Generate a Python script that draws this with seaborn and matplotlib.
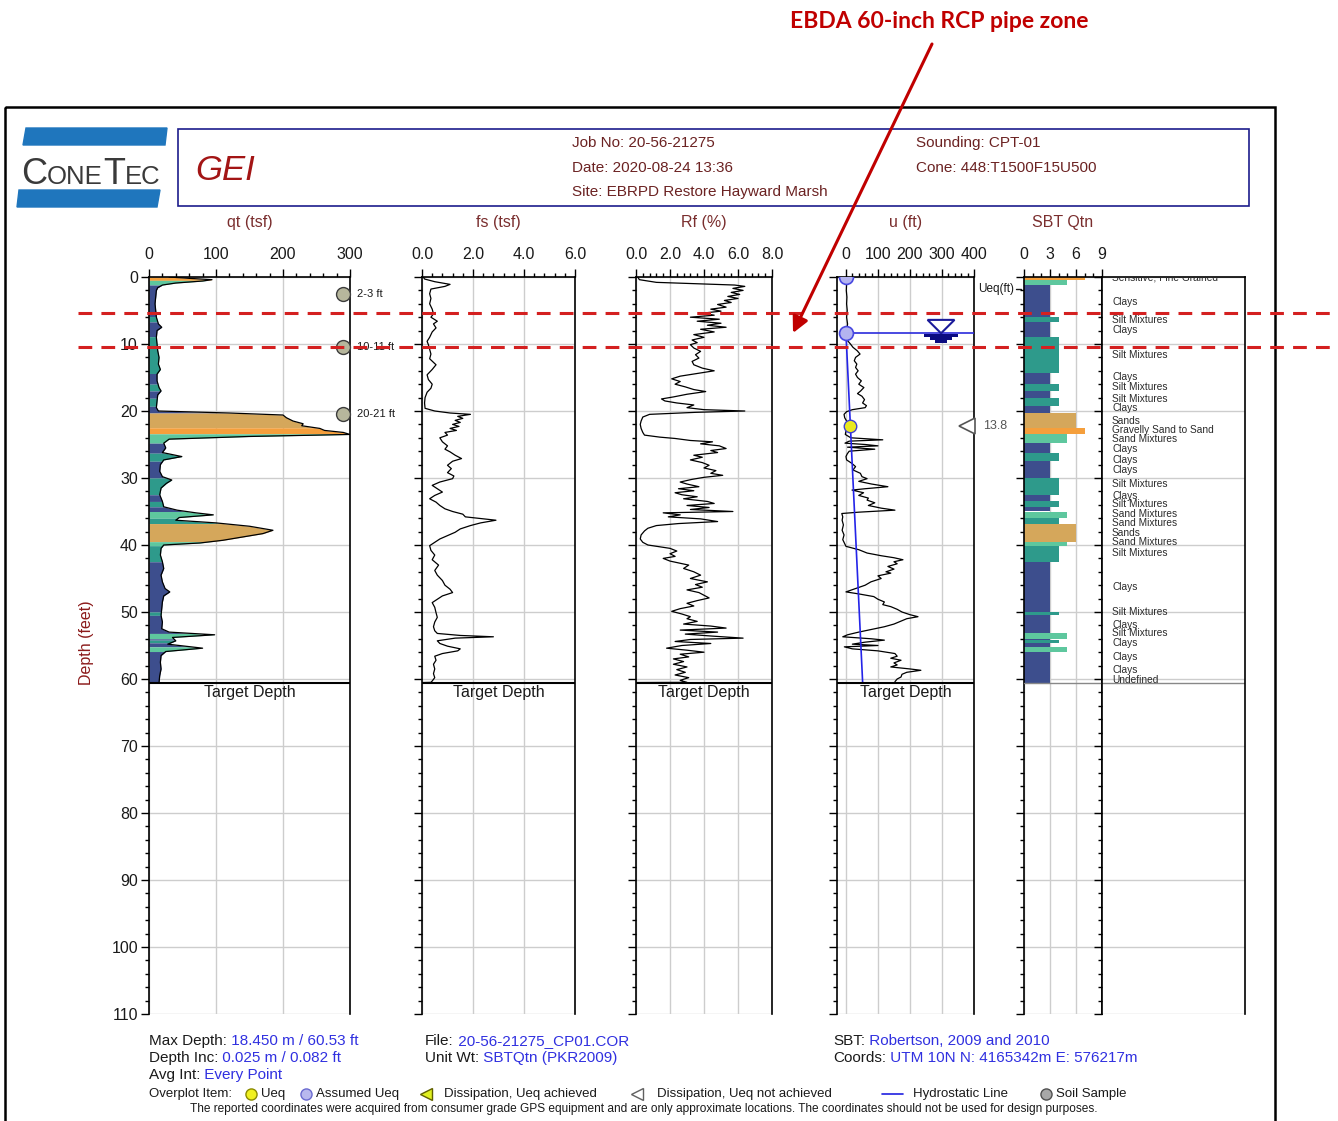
import numpy as np
import matplotlib
matplotlib.use("Agg")
import matplotlib.pyplot as plt
import seaborn as sns
from matplotlib.patches import Rectangle, Polygon
from matplotlib.ticker import MultipleLocator, FixedLocator, FormatStrFormatter
from matplotlib.transforms import blended_transform_factory

# ---------------------------------------------------------------- data
# CPT-01 profiles as (depth ft, value)
QT_PROFILE = [
    (0.0, 30), (0.2, 60), (0.4, 94), (0.6, 80), (0.9, 40), (1.2, 20), (1.6, 13),
    (2.0, 11), (3.0, 10), (4.0, 9), (5.0, 10), (6.0, 11), (7.0, 14), (7.5, 19),
    (8.0, 12), (9.0, 11), (10.0, 12), (11.0, 13), (12.0, 15), (13.0, 14),
    (13.8, 17), (14.5, 12), (15.5, 12), (16.5, 15), (17.0, 18), (17.6, 13),
    (18.5, 12), (19.5, 11), (20.0, 14), (20.3, 120), (20.6, 200), (21.0, 205),
    (21.5, 215), (21.9, 230), (22.2, 228), (22.6, 255), (22.9, 262), (23.2, 290),
    (23.5, 300), (23.8, 150), (24.2, 30), (24.8, 22), (25.5, 25), (26.2, 20),
    (26.8, 49), (27.3, 22), (28.0, 17), (29.0, 16), (29.8, 20), (30.3, 34),
    (30.8, 26), (31.5, 18), (32.5, 16), (33.5, 20), (34.3, 22), (34.8, 42),
    (35.2, 70), (35.5, 96), (35.9, 45), (36.3, 40), (36.7, 100), (37.2, 150),
    (37.8, 185), (38.3, 170), (38.8, 140), (39.3, 110), (39.7, 76), (40.0, 22),
    (40.5, 18), (41.5, 17), (42.5, 20), (43.5, 22), (44.5, 18), (45.5, 20),
    (46.5, 24), (47.0, 31), (47.6, 22), (48.5, 20), (49.5, 19), (50.5, 18),
    (51.5, 20), (52.5, 19), (53.0, 30), (53.4, 98), (53.8, 35), (54.3, 40),
    (54.8, 28), (55.4, 80), (55.9, 25), (56.5, 18), (57.5, 17), (58.5, 18),
    (59.5, 16), (60.5, 15),
]

FS_PROFILE = [
    (0.0, 0.05), (0.3, 0.1), (0.7, 0.5), (1.1, 1.1), (1.4, 0.9), (1.8, 0.35),
    (2.5, 0.3), (3.2, 0.35), (4.0, 0.3), (4.8, 0.4), (5.5, 0.45), (6.0, 0.35),
    (6.6, 0.6), (7.0, 0.45), (7.6, 0.55), (8.2, 0.4), (9.0, 0.3), (9.6, 0.2),
    (10.1, 0.25), (10.8, 0.3), (11.5, 0.35), (12.2, 0.3), (13.1, 0.55),
    (13.8, 0.4), (14.6, 0.2), (15.3, 0.25), (16.0, 0.4), (16.6, 0.35),
    (17.2, 0.2), (18.0, 0.12), (18.8, 0.1), (19.6, 0.12), (20.0, 0.5),
    (20.3, 1.1), (20.5, 1.9), (20.8, 1.4), (21.1, 1.6), (21.4, 1.3), (21.7, 1.5),
    (22.0, 1.2), (22.3, 1.45), (22.6, 1.1), (22.9, 1.35), (23.2, 0.9),
    (23.6, 1.0), (24.0, 0.7), (24.6, 0.8), (25.2, 1.0), (25.7, 0.9), (26.1, 1.1),
    (26.6, 1.3), (27.1, 1.55), (27.5, 1.2), (28.1, 1.0), (28.6, 1.15),
    (29.2, 1.0), (29.7, 1.25), (30.1, 1.2), (30.6, 0.7), (31.1, 0.4), (31.6, 0.6),
    (32.1, 0.8), (32.6, 0.5), (33.1, 0.3), (33.6, 0.55), (34.1, 0.7), (34.6, 0.9),
    (35.0, 1.2), (35.4, 1.6), (35.8, 1.7), (36.3, 2.9), (36.7, 2.3), (37.1, 1.9),
    (37.6, 1.5), (38.1, 1.3), (38.6, 1.0), (39.1, 0.7), (39.6, 0.5), (40.1, 0.3),
    (40.8, 0.35), (41.5, 0.5), (42.2, 0.4), (43.0, 0.65), (43.8, 0.5),
    (44.5, 0.6), (45.3, 0.8), (46.0, 0.9), (46.6, 1.1), (47.1, 1.2), (47.6, 0.8),
    (48.1, 0.6), (48.6, 0.4), (49.3, 0.5), (50.1, 0.55), (50.8, 0.6), (51.5, 0.5),
    (52.2, 0.45), (52.8, 0.5), (53.2, 0.6), (53.5, 1.5), (53.7, 2.8), (53.9, 1.3),
    (54.3, 0.6), (54.7, 0.7), (55.1, 1.0), (55.5, 1.5), (55.8, 1.4), (56.2, 0.8),
    (56.6, 0.5), (57.2, 0.55), (57.8, 0.45), (58.5, 0.5), (59.2, 0.45),
    (59.8, 0.5), (60.3, 0.4), (60.5, 0.35), (60.53, 0.0),
]

RF_PROFILE = [
    (0.0, 0.1), (0.4, 0.2), (0.8, 1.2), (1.0, 3.5), (1.2, 5.8), (1.4, 6.4),
    (1.7, 5.7), (2.0, 6.3), (2.3, 5.6), (2.6, 6.1), (2.9, 5.4), (3.2, 6.0),
    (3.5, 5.2), (3.8, 5.6), (4.1, 4.8), (4.5, 5.3), (4.8, 4.4), (5.1, 5.0),
    (5.4, 3.9), (5.7, 4.6), (6.0, 3.2), (6.3, 4.9), (6.6, 3.6), (6.9, 5.0),
    (7.2, 4.2), (7.5, 5.3), (7.8, 3.8), (8.2, 4.6), (8.6, 3.4), (9.0, 4.0),
    (9.4, 3.3), (9.8, 3.6), (10.1, 3.2), (10.6, 3.4), (11.1, 3.8), (11.6, 3.5),
    (12.1, 3.7), (12.6, 3.3), (13.1, 3.4), (13.6, 3.9), (14.0, 4.6), (14.4, 3.6),
    (14.8, 2.6), (15.2, 2.1), (15.6, 2.6), (16.0, 2.3), (16.4, 2.9), (16.8, 3.4),
    (17.1, 4.1), (17.5, 3.0), (17.9, 2.2), (18.2, 1.5), (18.5, 1.7), (18.8, 2.4),
    (19.1, 3.4), (19.5, 3.0), (19.8, 4.0), (20.0, 6.4), (20.2, 3.5), (20.5, 0.8),
    (20.9, 0.4), (21.5, 0.3), (22.0, 0.25), (22.6, 0.3), (23.2, 0.4), (23.6, 0.5),
    (23.9, 1.4), (24.1, 2.3), (24.4, 3.2), (24.6, 4.5), (24.9, 3.8), (25.2, 4.9),
    (25.6, 5.3), (25.9, 4.4), (26.2, 4.8), (26.6, 3.4), (26.9, 3.9), (27.3, 3.2),
    (27.7, 3.9), (28.1, 4.3), (28.5, 4.0), (28.9, 4.7), (29.3, 4.4), (29.6, 5.1),
    (29.9, 4.0), (30.2, 3.3), (30.6, 2.6), (30.9, 3.0), (31.3, 3.7), (31.6, 2.5),
    (31.9, 3.4), (32.2, 2.3), (32.5, 2.7), (32.8, 3.6), (33.1, 2.8), (33.5, 4.2),
    (33.8, 4.6), (34.1, 3.0), (34.4, 4.3), (34.7, 3.2), (35.0, 5.7), (35.2, 1.6),
    (35.5, 2.6), (35.8, 1.9), (36.1, 3.8), (36.5, 4.8), (36.8, 2.5), (37.1, 1.2),
    (37.5, 0.7), (37.9, 0.5), (38.5, 0.3), (39.1, 0.25), (39.6, 0.4), (40.0, 0.7),
    (40.5, 2.0), (40.9, 2.4), (41.3, 2.0), (41.7, 2.3), (42.0, 1.6), (42.4, 2.0),
    (43.0, 3.1), (43.5, 2.8), (44.0, 3.4), (44.5, 3.8), (45.0, 3.2), (45.5, 4.2),
    (45.9, 3.5), (46.3, 3.9), (46.7, 3.0), (47.1, 3.7), (47.5, 4.0), (47.9, 4.3),
    (48.3, 3.6), (48.7, 3.0), (49.1, 3.4), (49.5, 2.6), (49.9, 2.1), (50.3, 2.7),
    (50.7, 3.2), (51.0, 3.0), (51.4, 3.6), (51.8, 2.8), (52.1, 4.4), (52.4, 5.3),
    (52.7, 2.6), (53.0, 4.8), (53.3, 2.9), (53.6, 4.5), (53.9, 6.3), (54.1, 3.2),
    (54.4, 2.3), (54.7, 4.4), (55.0, 2.7), (55.4, 1.8), (55.7, 3.0), (56.0, 4.0),
    (56.3, 2.6), (56.7, 3.1), (57.0, 2.2), (57.4, 2.8), (57.8, 2.2), (58.2, 3.0),
    (58.6, 2.4), (59.0, 2.9), (59.4, 2.3), (59.8, 3.1), (60.2, 2.6), (60.5, 3.0),
    (60.53, 0.0),
]

U_PROFILE = [
    (0.0, 0), (1.0, 2), (2.0, 1), (3.0, 3), (4.0, 2), (5.0, 4), (6.0, 2), (7.0, 5),
    (8.0, 3), (8.4, 2), (9.0, 8), (9.5, 5), (10.0, 14), (10.5, 22), (11.0, 35),
    (11.5, 44), (12.0, 30), (12.5, 26), (13.0, 34), (13.5, 30), (14.0, 38),
    (14.5, 30), (15.0, 36), (15.5, 48), (16.0, 40), (16.5, 56), (17.0, 46),
    (17.4, 36), (17.8, 50), (18.3, 58), (18.8, 52), (19.2, 64), (19.5, 60),
    (19.8, 20), (20.1, 2), (20.5, -6), (21.0, -4), (21.5, 2), (22.0, 10),
    (22.5, 6), (23.0, 0), (23.5, -2), (24.0, 15), (24.3, 115), (24.5, 10),
    (24.8, -3), (25.0, 60), (25.2, 100), (25.4, 5), (25.7, 90), (26.0, 10),
    (26.4, 4), (26.8, 0), (27.3, 2), (27.8, 18), (28.3, 30), (28.8, 22),
    (29.3, 45), (29.8, 50), (30.1, 66), (30.5, 40), (30.9, 80), (31.3, 131),
    (31.6, 60), (31.8, 19), (32.2, 55), (32.6, 40), (33.0, 70), (33.3, 66),
    (33.7, 90), (34.1, 70), (34.5, 110), (34.8, 153), (35.1, 40), (35.3, -13),
    (35.8, -10), (36.3, -12), (37.0, -8), (37.8, -12), (38.5, -6), (39.2, -10),
    (39.8, -4), (40.2, 0), (40.7, 40), (41.2, 66), (41.6, 110), (41.9, 150),
    (42.2, 178), (42.5, 150), (42.8, 160), (43.2, 131), (43.6, 150), (44.0, 125),
    (44.2, 140), (44.6, 100), (45.0, 110), (45.5, 78), (46.0, 60), (46.5, 30),
    (47.0, 0), (47.3, 40), (47.7, 87), (48.1, 100), (48.5, 120), (48.9, 115),
    (49.2, 140), (49.6, 160), (50.0, 175), (50.4, 200), (50.7, 225), (51.0, 190),
    (51.4, 170), (51.8, 150), (52.2, 120), (52.6, 80), (53.0, 40), (53.4, 5),
    (53.7, -10), (54.0, 80), (54.2, 120), (54.5, 60), (54.8, 20), (55.0, 100),
    (55.2, -5), (55.5, 20), (55.8, 100), (56.2, 153), (56.6, 160), (56.9, 140),
    (57.2, 172), (57.6, 150), (57.9, 160), (58.2, 140), (58.5, 200), (58.7, 234),
    (59.0, 190), (59.3, 175), (59.7, 172), (60.0, 160), (60.4, 153),
]

# SBT Qtn zone per depth interval: (top ft, bottom ft, zone)
SBT_LAYERS = [
    (0.0, 0.5, 7), (0.5, 1.2, 5), (1.2, 5.9, 3), (5.9, 6.7, 4), (6.7, 8.9, 3),
    (8.9, 14.4, 4), (14.4, 16.0, 3), (16.0, 17.0, 4), (17.0, 18.1, 3),
    (18.1, 19.3, 4), (19.3, 20.3, 3), (20.3, 22.5, 6), (22.5, 23.4, 7),
    (23.4, 24.8, 5), (24.8, 26.3, 3), (26.3, 27.5, 4), (27.5, 30.0, 3),
    (30.0, 32.5, 4), (32.5, 33.5, 3), (33.5, 34.3, 4), (34.3, 35.0, 3),
    (35.0, 36.0, 5), (36.0, 36.8, 4), (36.8, 39.5, 6), (39.5, 40.1, 5),
    (40.1, 42.5, 4), (42.5, 50.0, 3), (50.0, 50.5, 4), (50.5, 53.2, 3),
    (53.2, 54.0, 5), (54.0, 54.2, 3), (54.2, 54.6, 4), (54.6, 55.2, 3),
    (55.2, 55.9, 5), (55.9, 60.53, 3),
]
ZONE_COLORS = {3: '#3d4e8d', 4: '#2e9a8b', 5: '#5ec79e', 6: '#d5a75b', 7: '#f59f3c'}

SBT_LABEL_DEPTHS = [0.0, 3.7, 6.4, 7.9, 11.6, 15.0, 16.4, 18.2, 19.6, 21.5, 22.9,
                    24.2, 25.7, 27.3, 28.8, 30.9, 32.7, 33.9, 35.4, 36.7, 38.2,
                    39.5, 41.2, 46.3, 50.0, 52.0, 53.1, 54.6, 56.7, 58.7, 60.1]
SBT_LABEL_NAMES = ['Sensitive, Fine Grained', 'Clays', 'Silt Mixtures', 'Clays',
                   'Silt Mixtures', 'Clays', 'Silt Mixtures', 'Silt Mixtures',
                   'Clays', 'Sands', 'Gravelly Sand to Sand', 'Sand Mixtures',
                   'Clays', 'Clays', 'Clays', 'Silt Mixtures', 'Clays',
                   'Silt Mixtures', 'Sand Mixtures', 'Sand Mixtures', 'Sands',
                   'Sand Mixtures', 'Silt Mixtures', 'Clays', 'Silt Mixtures',
                   'Clays', 'Silt Mixtures', 'Clays', 'Clays', 'Clays', 'Undefined']

SAMPLE_DEPTHS = [2.5, 10.5, 20.5]
SAMPLE_NAMES = ['2-3 ft', '10-11 ft', '20-21 ft']
SAMPLE_QT_POS = 290

WATER_DEPTH = 8.4
HYDRO_DEPTH = [8.4, 60.53]
HYDRO_U = [0.0, 52.1]
DISS_DEPTH = 22.2
DISS_UEQ = 13.8
TARGET_DEPTH = 60.53
PIPE_ZONE = [5.4, 10.4]

# ---------------------------------------------------------------- figure
sns.set_theme(style="white")
FONT = ['Liberation Sans', 'DejaVu Sans']
NARROW = ['Liberation Sans Narrow', 'Liberation Sans', 'DejaVu Sans']
plt.rcParams['font.family'] = FONT

W, H = 1338, 1121
fig = plt.figure(figsize=(W / 100, H / 100), dpi=100)
fig.patch.set_facecolor('white')
renderer = fig.canvas.get_renderer()


def px_axes(x0, y0, x1, y1):
    return fig.add_axes([x0 / W, 1 - y1 / H, (x1 - x0) / W, (y1 - y0) / H])


bg = px_axes(0, 0, W, H)
bg.set_xlim(0, W)
bg.set_ylim(H, 0)
bg.axis('off')

TITLE_C = '#7a2e2e'
BLUE_T = '#3030e0'

# outer frame and header
bg.add_patch(Rectangle((5, 107), 1270, 1030, fill=False, ec='black', lw=1.8))
bg.add_patch(Rectangle((178, 129), 1071, 77, fill=False, ec='#1c1c8c', lw=1.2))
bg.add_patch(Polygon([(26, 128), (167, 128), (165, 145), (23, 145)], color='#1f76bd'))
bg.add_patch(Polygon([(19, 190), (160, 190), (157, 207), (17, 207)], color='#1f76bd'))


def run_text(x, y, parts, **kw):
    """Draw text pieces side by side on a common baseline (bg units are pixels)."""
    for s, c, size in parts:
        t = bg.text(x, y, s, color=c, fontsize=size, ha='left', va='baseline', **kw)
        x += t.get_window_extent(renderer=renderer).width


BIG, SMALL = 26, 18.5
run_text(21, 184, [('C', '#3a3a3a', BIG), ('ONE', '#3a3a3a', SMALL),
                   ('T', '#3a3a3a', BIG), ('EC', '#3a3a3a', SMALL)], family=NARROW)
bg.text(195, 170, 'GEI', fontsize=25, style='italic', color='#a31515',
        ha='left', va='center')

for y, s in [(143, 'Job No: 20-56-21275'), (168, 'Date: 2020-08-24 13:36'),
             (192, 'Site: EBRPD Restore Hayward Marsh')]:
    bg.text(572, y, s, fontsize=11, color='#6b2222', va='center', ha='left')
for y, s in [(143, 'Sounding: CPT-01'), (168, 'Cone: 448:T1500F15U500')]:
    bg.text(916, y, s, fontsize=11, color='#6b2222', va='center', ha='left')

# ---------------------------------------------------------------- panels
PANEL_TOP, PANEL_BOTTOM, DEPTH_MAX = 277, 1014, 110


def depth_panel(x0, x1, xlim, major, minor, fmt, title, depth_labels=False):
    ax = px_axes(x0, PANEL_TOP, x1, PANEL_BOTTOM)
    ax.set_xlim(*xlim)
    ax.set_ylim(DEPTH_MAX, 0)
    ax.xaxis.tick_top()
    ax.xaxis.set_major_locator(FixedLocator(major))
    ax.xaxis.set_minor_locator(FixedLocator(minor))
    ax.xaxis.set_major_formatter(FormatStrFormatter(fmt))
    ax.yaxis.set_major_locator(MultipleLocator(10))
    ax.yaxis.set_minor_locator(MultipleLocator(2))
    ax.tick_params(axis='both', which='major', direction='out', length=6, width=1,
                   color='black', labelsize=11.5, labelcolor='#1a1a1a')
    ax.tick_params(axis='x', which='major', pad=4.5)
    ax.tick_params(axis='y', which='major', pad=2, labelleft=depth_labels)
    ax.tick_params(axis='both', which='minor', direction='out', length=3, width=1,
                   color='black')
    ax.tick_params(left=True, top=True, bottom=False, right=False,
                   which='both')
    ax.grid(True, which='major', color='#cdcdcd', lw=1)
    ax.set_axisbelow(True)
    for s in ['left', 'right', 'top']:
        ax.spines[s].set_color('black')
        ax.spines[s].set_linewidth(1.2)
    ax.spines['bottom'].set_visible(False)
    ax.set_facecolor('white')
    bg.text((x0 + x1) / 2, 222, title, fontsize=11.5, color=TITLE_C,
            ha='center', va='center')
    return ax


def finish(ax, target=True):
    ax.set_xlabel('')
    ax.set_ylabel('')
    if target:
        ax.axhline(TARGET_DEPTH, color='black', lw=1.5, zorder=5)
        ax.text(0.5, TARGET_DEPTH + 0.35, 'Target Depth', fontsize=11.5,
                color='#1a1a1a', ha='center', va='top',
                transform=blended_transform_factory(ax.transAxes, ax.transData))


# qt
qt = np.array(QT_PROFILE, dtype=float)
ax_qt = depth_panel(149, 350, (0, 300), [0, 100, 200, 300], np.arange(0, 301, 20),
                    '%d', 'qt (tsf)', depth_labels=True)
for top, bot, zone in SBT_LAYERS:
    inner = qt[(qt[:, 0] > top) & (qt[:, 0] < bot), 0]
    d = np.concatenate([[top], inner, [bot]])
    ax_qt.fill_betweenx(d, 0, np.interp(d, qt[:, 0], qt[:, 1]),
                        color=ZONE_COLORS[zone], lw=0, zorder=2)
sns.lineplot(x=qt[:, 1], y=qt[:, 0], orient='y', estimator=None, color='black',
             lw=0.9, ax=ax_qt, zorder=3)
ax_qt.plot([SAMPLE_QT_POS] * len(SAMPLE_DEPTHS), SAMPLE_DEPTHS, 'o', ms=10,
           mfc='#b6b69c', mec='#3c3c3c', mew=1, zorder=4, clip_on=False)
for d, name in zip(SAMPLE_DEPTHS, SAMPLE_NAMES):
    ax_qt.text(SAMPLE_QT_POS + 20, d, name, fontsize=8, va='center', ha='left',
               color='#1a1a1a', clip_on=False)
finish(ax_qt)

# fs
fs = np.array(FS_PROFILE, dtype=float)
ax_fs = depth_panel(422, 575, (0, 6), [0, 2, 4, 6], np.arange(0, 6.01, 0.4),
                    '%.1f', 'fs (tsf)')
sns.lineplot(x=fs[:, 1], y=fs[:, 0], orient='y', estimator=None, color='black',
             lw=0.9, ax=ax_fs)
finish(ax_fs)

# Rf
rf = np.array(RF_PROFILE, dtype=float)
ax_rf = depth_panel(636, 772, (0, 8), [0, 2, 4, 6, 8], np.arange(0, 8.01, 0.4),
                    '%.1f', 'Rf (%)')
sns.lineplot(x=rf[:, 1], y=rf[:, 0], orient='y', estimator=None, color='black',
             lw=0.9, ax=ax_rf)
finish(ax_rf)

# u
u = np.array(U_PROFILE, dtype=float)
ax_u = depth_panel(837, 974, (-28, 400), [0, 100, 200, 300, 400],
                   np.arange(0, 401, 20), '%d', 'u (ft)')
sns.lineplot(x=u[:, 1], y=u[:, 0], orient='y', estimator=None, color='black',
             lw=0.9, ax=ax_u, zorder=3)
sns.lineplot(x=HYDRO_U, y=HYDRO_DEPTH, orient='y', estimator=None,
             color='#2424e8', lw=1.2, ax=ax_u, zorder=4)
ax_u.plot([0, 400], [WATER_DEPTH, WATER_DEPTH], color='#2b2bdb', lw=1.2, zorder=4)
ax_u.plot([0], [0], 'o', ms=10, mfc='#b4b4f0', mec='#4848e0', mew=1.2, zorder=5)
ax_u.plot([0], [WATER_DEPTH], 'o', ms=10, mfc='#b4b4f0', mec='#4848e0',
          mew=1.2, zorder=5)
ax_u.plot([DISS_UEQ], [DISS_DEPTH], 'o', ms=9, mfc='#e8e820', mec='#4040d0',
          mew=1.0, zorder=5)
# water table symbol
u_wt = 297
ax_u.add_patch(Polygon([(u_wt - 42, WATER_DEPTH - 2.0), (u_wt + 42, WATER_DEPTH - 2.0),
                        (u_wt, WATER_DEPTH)], closed=True, fc='white', ec='#1a1a9a',
                       lw=1.5, zorder=6))
for i, half in enumerate([52, 35, 19]):
    ax_u.add_patch(Rectangle((u_wt - half, WATER_DEPTH + 0.1 + i * 0.45), 2 * half,
                             0.45, color='#0b0b80', lw=0, zorder=6))
# dissipation marker and value
ax_u.plot([378], [DISS_DEPTH], marker='<', ms=11, mfc='white', mec='#555555',
          mew=1.2, clip_on=False, zorder=6)
ax_u.text(428, DISS_DEPTH, f'{DISS_UEQ:.1f}', fontsize=9, color='#555555',
          va='center', ha='left', clip_on=False)
finish(ax_u)
bg.text(978, 289, 'Ueq(ft)', fontsize=8.5, color='#1a1a1a', va='center', ha='left')
bg.plot([1016, 1021], [289, 289], color='#1a1a1a', lw=1)

# SBT Qtn column
ax_sbt = depth_panel(1024, 1102, (0, 9), [0, 3, 6, 9], np.arange(0, 10, 1), '%d',
                     'SBT Qtn')
for top, bot, zone in SBT_LAYERS:
    ax_sbt.barh(top, zone, height=bot - top, left=0, align='edge',
                color=ZONE_COLORS[zone], lw=0, zorder=2)
ax_sbt.axhline(TARGET_DEPTH, color='#888888', lw=1, zorder=3)
finish(ax_sbt, target=False)

# SBT descriptions
ax_lab = px_axes(1102, PANEL_TOP, 1245, PANEL_BOTTOM)
ax_lab.set_xlim(0, 1)
ax_lab.set_ylim(DEPTH_MAX, 0)
ax_lab.set_xticks([])
ax_lab.yaxis.set_major_locator(MultipleLocator(10))
ax_lab.yaxis.set_minor_locator(MultipleLocator(2))
ax_lab.tick_params(axis='y', which='major', direction='out', length=6, width=1,
                   color='black', labelleft=False, left=True)
ax_lab.tick_params(axis='y', which='minor', direction='out', length=3, width=1,
                   color='black', left=True)
ax_lab.grid(True, axis='y', which='major', color='#cdcdcd', lw=1)
for s in ['left', 'right', 'top']:
    ax_lab.spines[s].set_color('black')
    ax_lab.spines[s].set_linewidth(1.2)
ax_lab.spines['bottom'].set_visible(False)
ax_lab.axhline(TARGET_DEPTH, color='#888888', lw=1)
for d, name in zip(SBT_LABEL_DEPTHS, SBT_LABEL_NAMES):
    ax_lab.text(0.07, d, name, fontsize=7.3, color='#2a2a2a', va='center',
                ha='left', clip_on=True)

bg.text(86, 643, 'Depth (feet)', rotation=90, fontsize=11.5, color='#8b1a1a',
        ha='center', va='center')

# ---------------------------------------------------------------- footer
K = '#1a1a1a'
for x, y, label, value in [
        (149, 1045, 'Max Depth:', ' 18.450 m / 60.53 ft'),
        (149, 1062, 'Depth Inc:', ' 0.025 m / 0.082 ft'),
        (149, 1079, 'Avg Int:', ' Every Point'),
        (425, 1045, 'File:', ' 20-56-21275_CP01.COR'),
        (425, 1062, 'Unit Wt:', ' SBTQtn (PKR2009)'),
        (833, 1045, 'SBT:', ' Robertson, 2009 and 2010'),
        (833, 1062, 'Coords:', ' UTM 10N N: 4165342m E: 576217m')]:
    run_text(x, y, [(label, K, 11), (value, BLUE_T, 11)])

LEG_Y = 1094
bg.text(149, LEG_Y, 'Overplot Item:', fontsize=9.5, color=K, va='center',
        ha='left', family=NARROW)
bg.plot(251, LEG_Y, 'o', ms=8, mfc='#f0f020', mec='#8a8a00', mew=1)
bg.text(261, LEG_Y, 'Ueq', fontsize=9.5, color=K, va='center', family=NARROW)
bg.plot(306, LEG_Y, 'o', ms=8, mfc='#b8b8ee', mec='#6a6ad0', mew=1)
bg.text(316, LEG_Y, 'Assumed Ueq', fontsize=9.5, color=K, va='center', family=NARROW)
bg.plot(426, LEG_Y, '<', ms=9, mfc='#e0f020', mec='#606000', mew=1)
bg.text(444, LEG_Y, 'Dissipation, Ueq achieved', fontsize=9.5, color=K,
        va='center', family=NARROW)
bg.plot(637, LEG_Y, '<', ms=9, mfc='white', mec='#606060', mew=1)
bg.text(657, LEG_Y, 'Dissipation, Ueq not achieved', fontsize=9.5, color=K,
        va='center', family=NARROW)
bg.plot([882, 903], [LEG_Y, LEG_Y], color='#2020e0', lw=1.2)
bg.text(913, LEG_Y, 'Hydrostatic Line', fontsize=9.5, color=K, va='center',
        family=NARROW)
bg.plot(1046, LEG_Y, 'o', ms=8, mfc='#a8a8a8', mec='#505050', mew=1)
bg.text(1056, LEG_Y, 'Soil Sample', fontsize=9.5, color=K, va='center',
        family=NARROW)
bg.text(644, 1109, 'The reported coordinates were acquired from consumer grade GPS '
        'equipment and are only approximate locations. The coordinates should not '
        'be used for design purposes.', fontsize=8.6, color=K, ha='center', va='center')

# ---------------------------------------------------------------- pipe zone callout
ov = px_axes(0, 0, W, H)
ov.set_zorder(10)
ov.set_xlim(0, W)
ov.set_ylim(H, 0)
ov.axis('off')
zone_tr = blended_transform_factory(ov.transData, ax_qt.transData)
for d in PIPE_ZONE:
    ov.plot([78, W], [d, d], transform=zone_tr, color='#d42020', lw=2.2,
            ls=(0, (4.5, 3)), clip_on=False)
ov.annotate('', xy=(793, 333), xytext=(932, 44),
            arrowprops=dict(arrowstyle='-|>', color='#c00000', lw=2.2,
                            mutation_scale=24, shrinkA=0, shrinkB=0))
ov.text(939, 21, 'EBDA 60-inch RCP pipe zone', ha='center', va='center',
        color='#c00000', fontsize=16.5, fontweight='bold', family=['Lato', 'DejaVu Sans'])

fig.savefig('out.png', dpi=100, facecolor='white')
